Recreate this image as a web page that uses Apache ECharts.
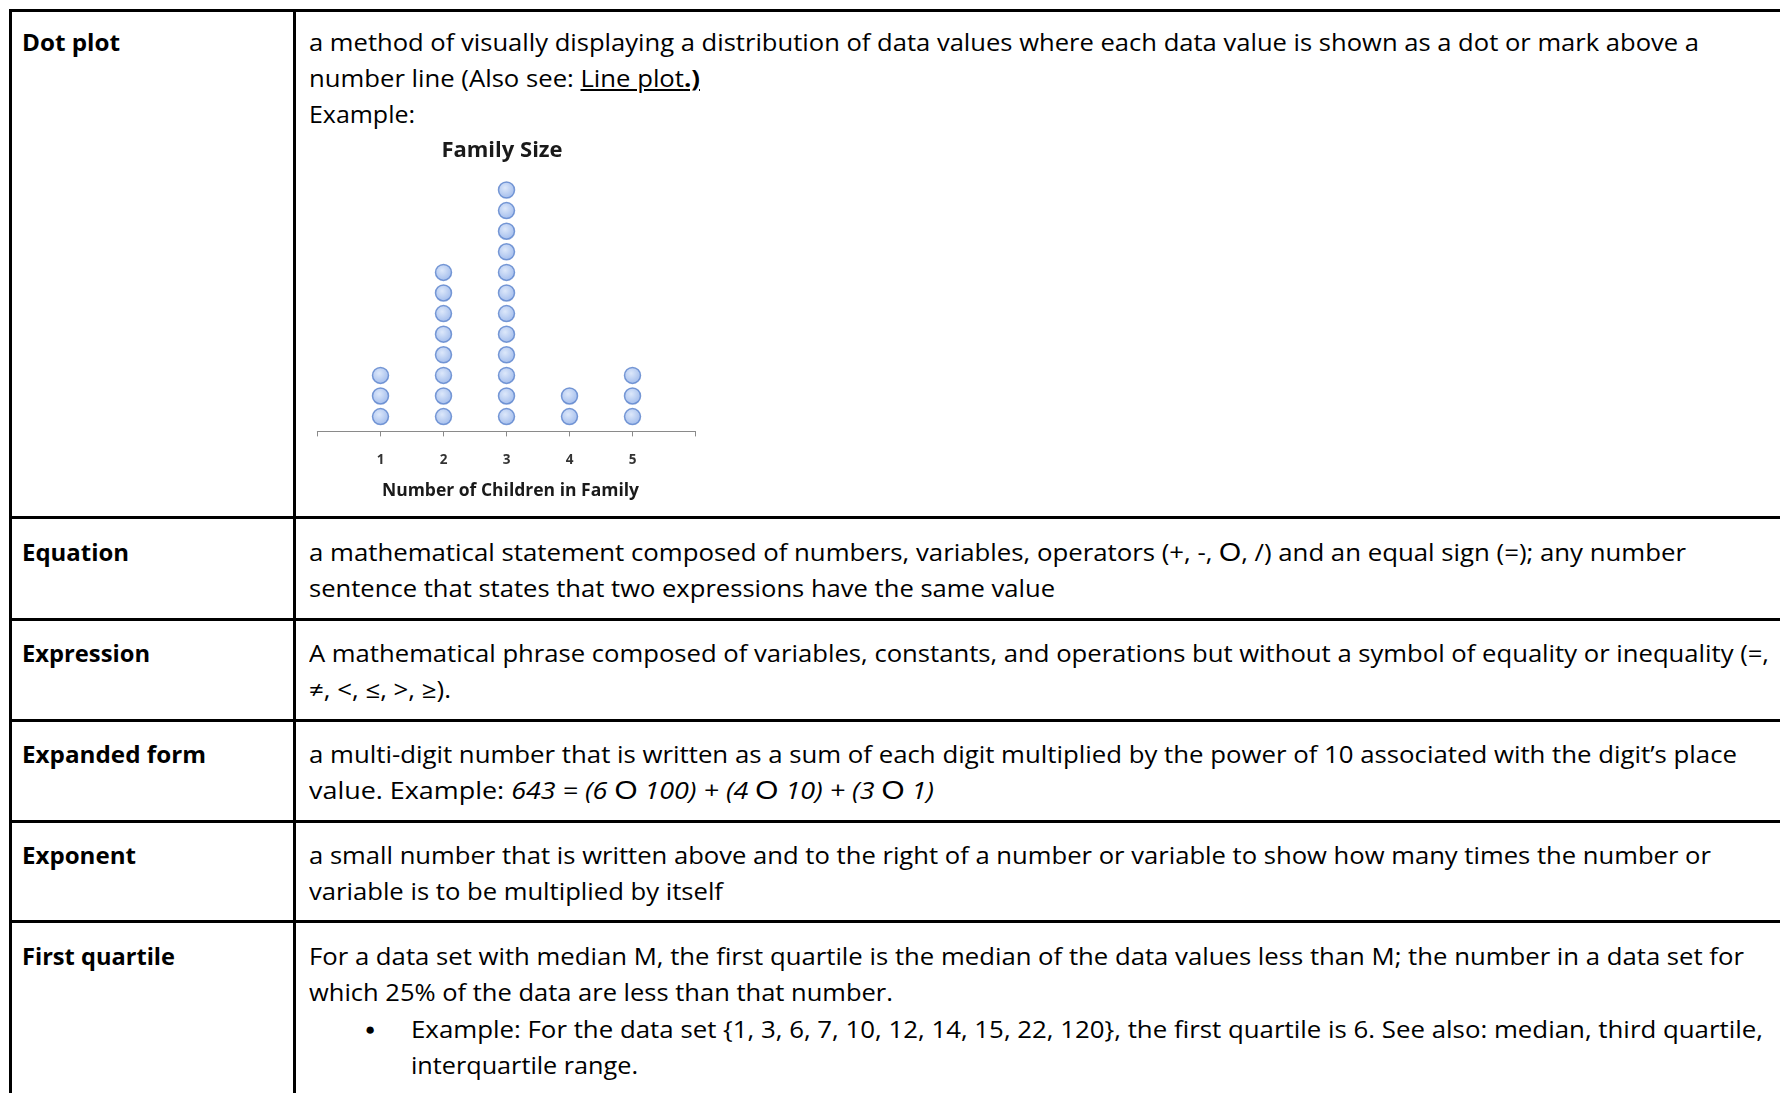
<!DOCTYPE html>
<html>
<head>
<meta charset="utf-8">
<script src="https://cdn.jsdelivr.net/npm/echarts@6/dist/echarts.min.js"></script>
<style>
  html, body { margin:0; padding:0; }
  body { width:1780px; height:1093px; overflow:hidden; background:#fff; position:relative;
         font-family:"Open Sans", "Noto Sans", sans-serif; color:#000; }
  .hl { position:absolute; left:9px; right:0; height:3px; background:#000; }
  .vl { position:absolute; top:9px; bottom:0; width:3px; background:#000; }
  .ln { position:absolute; white-space:nowrap; font-size:23px; line-height:36px; transform-origin:0 0; }
  .lab { font-weight:bold; }
  .o { font-family:"Liberation Sans", sans-serif; font-style:normal; font-size:1.1em; }
  #chart { position:absolute; left:0; top:0; width:1780px; height:1093px; }
</style>
</head>
<body>
<!-- table borders -->
<div class="hl" style="top:9px"></div>
<div class="vl" style="left:9px"></div>
<div class="vl" style="left:293px"></div>
<div class="hl" style="top:516px"></div>
<div class="hl" style="top:618px"></div>
<div class="hl" style="top:719px"></div>
<div class="hl" style="top:820px"></div>
<div class="hl" style="top:920px"></div>

<!-- left column terms -->
<div class="ln lab" data-w="98"  style="left:22px; top:24px">Dot plot</div>
<div class="ln lab" data-w="107" style="left:22px; top:534px">Equation</div>
<div class="ln lab" data-w="128" style="left:22px; top:635px">Expression</div>
<div class="ln lab" data-w="184" style="left:22px; top:736px">Expanded form</div>
<div class="ln lab" data-w="114" style="left:22px; top:837px">Exponent</div>
<div class="ln lab" data-w="153" style="left:22px; top:938px">First quartile</div>

<!-- right column definitions -->
<div class="ln" data-w="1390" style="left:309px; top:24px">a method of visually displaying a distribution of data values where each data value is shown as a dot or mark above a</div>
<div class="ln" data-w="391" style="left:309px; top:60px">number line (Also see: <u>Line plot</u><b><u>.)</u></b></div>
<div class="ln" data-w="106" style="left:309px; top:96px">Example:</div>

<div class="ln" data-w="1377" style="left:309px; top:534px">a mathematical statement composed of numbers, variables, operators (+, -, <span class="o">O</span>, /) and an equal sign (=); any number</div>
<div class="ln" data-w="746" style="left:309px; top:570px">sentence that states that two expressions have the same value</div>

<div class="ln" data-w="1460" style="left:309px; top:635px">A mathematical phrase composed of variables, constants, and operations but without a symbol of equality or inequality (=,</div>
<div class="ln" data-w="142" style="left:309px; top:671px">≠, &lt;, ≤, &gt;, ≥).</div>

<div class="ln" data-w="1428" style="left:309px; top:736px">a multi-digit number that is written as a sum of each digit multiplied by the power of 10 associated with the digit’s place</div>
<div class="ln" data-w="625" style="left:309px; top:772px">value. Example: <i>643 = (6 </i><span class="o">O</span><i> 100) + (4 </i><span class="o">O</span><i> 10) + (3 </i><span class="o">O</span><i> 1)</i></div>

<div class="ln" data-w="1402" style="left:309px; top:837px">a small number that is written above and to the right of a number or variable to show how many times the number or</div>
<div class="ln" data-w="414" style="left:309px; top:873px">variable is to be multiplied by itself</div>

<div class="ln" data-w="1435" style="left:309px; top:938px">For a data set with median M, the first quartile is the median of the data values less than M; the number in a data set for</div>
<div class="ln" data-w="584" style="left:309px; top:974px">which 25% of the data are less than that number.</div>
<div class="ln" style="left:365px; top:1011px; font-size:17px;">●</div>
<div class="ln" data-w="1352" style="left:411px; top:1011px">Example: For the data set {1, 3, 6, 7, 10, 12, 14, 15, 22, 120}, the first quartile is 6. See also: median, third quartile,</div>
<div class="ln" data-w="227" style="left:411px; top:1047px">interquartile range.</div>

<div id="chart"></div>

<script>
// ---- data ----
const chartTitle = 'Family Size';
const axisTitle = 'Number of Children in Family';
const categories = [1, 2, 3, 4, 5];
const counts = [3, 8, 12, 2, 3];
const tickLabels = ['1', '2', '3', '4', '5'];

// fit text lines to measured widths
function fitLines() {
  document.querySelectorAll('.ln[data-w]').forEach(function (el) {
    el.style.transform = 'none';
    const w = el.getBoundingClientRect().width;
    const t = parseFloat(el.getAttribute('data-w'));
    if (w > 0) el.style.transform = 'scaleX(' + (t / w) + ')';
  });
}
fitLines();
if (document.fonts && document.fonts.ready) document.fonts.ready.then(fitLines);

// build dot stacks
const points = [];
categories.forEach(function (c, i) {
  for (let k = 1; k <= counts[i]; k++) points.push([c, k]);
});

const chart = echarts.init(document.getElementById('chart'), null, { renderer: 'canvas' });
chart.setOption({
  backgroundColor: 'transparent',
  animation: false,
  title: {
    text: chartTitle,
    left: 497, top: 135, textAlign: 'center',
    textStyle: { fontFamily: 'Open Sans', fontWeight: 'bold', fontSize: 22, color: '#1a1a1a' }
  },
  grid: { left: 317.5, top: 190, width: 378, height: 241.4, outerBoundsMode: 'none' },
  xAxis: {
    type: 'value', min: 0, max: 6, interval: 1,
    name: axisTitle, nameLocation: 'middle', nameGap: 51,
    nameTextStyle: { fontFamily: 'Open Sans', fontWeight: 'bold', fontSize: 17.5, color: '#1a1a1a', padding: [0, 0, 0, 8] },
    axisLine: { show: true, lineStyle: { color: '#8a8a8a', width: 1.2 } },
    axisTick: { show: true, length: 5, lineStyle: { color: '#8a8a8a', width: 1 } },
    axisLabel: {
      margin: 22, fontFamily: 'Open Sans', fontSize: 13.5, fontWeight: 'bold', color: '#333',
      formatter: function (v) { const i = categories.indexOf(v); return i >= 0 ? tickLabels[i] : ''; }
    },
    splitLine: { show: false }
  },
  yAxis: { type: 'value', min: 0.28, max: 12, show: false, splitLine: { show: false } },
  series: [{
    type: 'scatter',
    data: points,
    symbol: 'circle',
    symbolSize: 16,
    itemStyle: {
      color: {
        type: 'radial', x: 0.42, y: 0.38, r: 0.65,
        colorStops: [{ offset: 0, color: '#d4e2f9' }, { offset: 1, color: '#86a8e6' }]
      },
      borderColor: '#5a82cc', borderWidth: 1.5
    }
  }]
});
</script>
</body>
</html>
